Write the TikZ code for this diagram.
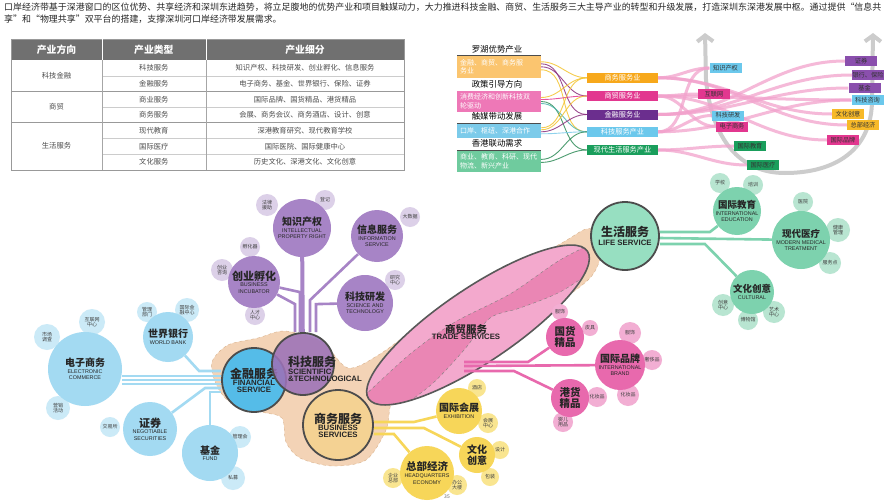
\documentclass[tikz,border=0pt]{standalone}
\usepackage{fontspec}
\setmainfont{Noto Sans CJK SC}
\newfontfamily\en{Liberation Sans}
\usetikzlibrary{arrows.meta,shapes.geometric}

\definecolor{tabhead}{HTML}{707070}
\definecolor{lorange}{HTML}{FBC56F}
\definecolor{lpink}{HTML}{EE78B7}
\definecolor{lblue}{HTML}{7CCBEA}
\definecolor{lgreen}{HTML}{6FCB9E}
\definecolor{rorange}{HTML}{F7A81B}
\definecolor{rmag}{HTML}{E2378F}
\definecolor{rpurple}{HTML}{6B2E8E}
\definecolor{rblue}{HTML}{6BC8EC}
\definecolor{rgreen}{HTML}{1A9E5C}
\definecolor{tagpur}{HTML}{8A4FAD}
\definecolor{tagyel}{HTML}{F7B928}
\definecolor{flyel}{HTML}{F4C430}
\definecolor{flpur}{HTML}{8B2F7E}
\definecolor{flteal}{HTML}{4DB6AC}
\definecolor{flgrn}{HTML}{2E8B57}
\definecolor{pinkln}{HTML}{F2A2CC}
\definecolor{kjmain}{HTML}{9C72B8}
\definecolor{kjmid}{HTML}{A784C6}
\definecolor{kjlt}{HTML}{DCD0E8}
\definecolor{jrmain}{HTML}{55BCE8}
\definecolor{jrmid}{HTML}{A3DAF2}
\definecolor{jrlt}{HTML}{CBEAF7}
\definecolor{swmain}{HTML}{F4D293}
\definecolor{swmid}{HTML}{F7D659}
\definecolor{swlt}{HTML}{F9E590}
\definecolor{mmell}{HTML}{F3A9CD}
\definecolor{mmband}{HTML}{EA86B4}
\definecolor{mmmid}{HTML}{E869AD}
\definecolor{mmlt}{HTML}{F2AED3}
\definecolor{shmain}{HTML}{97DFC1}
\definecolor{shmid}{HTML}{7DD2AE}
\definecolor{shlt}{HTML}{B8E5D1}
\definecolor{blobc}{HTML}{F3D3B6}

\pgfdeclarelayer{back}
\pgfdeclarelayer{mid}
\pgfsetlayers{back,mid,main}

\tikzset{
  headtxt/.style={text=white,font=\bfseries\fontsize{9.8}{10}\selectfont},
  cell/.style={text=black!70,font=\fontsize{7.3}{7.5}\selectfont},
  ftitle/.style={font=\fontsize{8.4}{9}\selectfont},
  lbox/.style={inner sep=3pt,text width=78pt,align=left,text=white,font=\fontsize{7}{8.4}\selectfont},
  rbox/.style={inner sep=0pt,minimum width=71pt,minimum height=10pt,text=white,font=\fontsize{7.2}{8}\selectfont},
  tagbox/.style={inner sep=0pt,minimum width=32pt,minimum height=10pt,text=black!80,font=\fontsize{6.2}{7}\selectfont},
  flow/.style={line width=0.9pt,opacity=0.85},
  pinkline/.style={line width=3pt,pinkln,opacity=0.75},
  bub/.style={circle,inner sep=0pt,align=center,text=black!85,font=\fontsize{6}{6.6}\selectfont},
  big/.style={bub,draw=black!70,line width=1.8pt},
  sat/.style={circle,inner sep=0pt,align=center,text=black!75,font=\fontsize{5}{5.6}\selectfont},
  stem/.style={line width=2.6pt},
}

\newcommand\zhb[2]{{\bfseries\fontsize{#1}{#1}\selectfont #2}}
\newcommand\ensm[1]{{\en\fontsize{5.4}{6}\selectfont #1}}
\newcommand\enbg[1]{{\en\bfseries\fontsize{7.8}{8.6}\selectfont #1}}

\begin{document}
\begin{tikzpicture}[x=1pt,y=-1pt]
\useasboundingbox (0,0) rectangle (890,503);
\begin{pgfonlayer}{back}
\fill[white] (0,0) rectangle (890,503);
\end{pgfonlayer}

% intro
\node (intro) at (4,2.5) [anchor=north west,align=left,inner sep=0pt,text=black!85,font=\fontsize{8.95}{12}\selectfont] {口岸经济带基于深港窗口的区位优势、共享经济和深圳东进趋势，将立足腹地的优势产业和项目触媒动力，大力推进科技金融、商贸、生活服务三大主导产业的转型和升级发展，打造深圳东深港发展中枢。通过提供“信息共\\享”和“物理共享”双平台的搭建，支撑深圳河口岸经济带发展需求。};

% table
\fill[tabhead] (11,39) rectangle (404,60);
\draw[black!40] (11,39) rectangle (404,170);
\foreach \y in {91,122.3} \draw[black!40] (11,\y) -- (404,\y);
\foreach \y in {75.7,106.7,138,153.7} \draw[black!20] (102,\y) -- (404,\y);
\foreach \x in {102,205.7} {
  \draw[black!35] (\x,60) -- (\x,170);
  \draw[white] (\x,39) -- (\x,60);
}
\node (hd1) at (56.5,49.5) [headtxt] {产业方向};
\node (hd2) at (153.8,49.5) [headtxt] {产业类型};
\node (hd3) at (305,49.5) [headtxt] {产业细分};
\node (fx1) at (56.5,75.7) [cell] {科技金融};
\node (fx2) at (56.5,106.7) [cell] {商贸};
\node (fx3) at (56.5,146.2) [cell] {生活服务};
\foreach \t/\d [count=\i] in {科技服务/知识产权、科技研发、创业孵化、信息服务,
  金融服务/电子商务、基金、世界银行、保险、证券,
  商业服务/国际品牌、国货精品、港货精品,
  商务服务/会展、商务会议、商务酒店、设计、创意,
  现代教育/深港教育研究、现代教育学校,
  国际医疗/国际医院、国际健康中心,
  文化服务/历史文化、深港文化、文化创意}
{
  \node (tp\i) at (153.8,{52.15+15.7*\i}) [cell] {\t};
  \node (ts\i) at (305,{52.15+15.7*\i}) [cell] {\d};
}

% flow diagram
\foreach \nm/\t/\y in {tt1/罗湖优势产业/49,tt2/政策引导方向/84.5,tt3/触媒带动发展/116.5,tt4/香港联动需求/143.5}
{
  \node (\nm) at (497,\y) [ftitle] {\t};
  \draw[black!70,line width=.8pt] (457,\y+6.5) -- (541,\y+6.5);
}
\node (lb1) at (499,66.8) [lbox,fill=lorange,minimum height=21.5pt] {金融、商贸、商务服\\务业};
\node (lb2) at (499,101.5) [lbox,fill=lpink,minimum height=21pt] {消费经济和创新科技双\\轮驱动};
\node (lb3) at (499,130.8) [lbox,fill=lblue,minimum height=13.5pt] {口岸、枢纽、深港合作};
\node (lb4) at (499,161.4) [lbox,fill=lgreen,minimum height=20.7pt] {商业、教育、科研、现代\\物流、新兴产业};
\foreach \nm/\t/\y/\c in {rb1/商务服务业/77.8/rorange,rb2/商贸服务业/96/rmag,rb3/金融服务业/114.5/rpurple,rb4/科技服务产业/131.8/rblue,rb5/现代生活服务产业/150/rgreen}
  \node (\nm) at (622.5,\y) [rbox,fill=\c] {\t};
\begin{pgfonlayer}{mid}
\foreach \a/\s/\b/\c in {lb1/5/rb1/flyel,lb1/3/rb3/flpur,lb1/0/rb2/flpur,lb1/-3/rb4/flyel,
  lb2/4/rb1/flyel,lb2/2/rb2/rmag,lb2/0/rb5/flgrn,lb2/-2/rb4/flteal,
  lb3/3/rb1/flyel,lb3/1/rb2/flyel,lb3/-1/rb3/flpur,lb3/-3/rb4/lblue,
  lb4/2/rb4/flgrn,lb4/-1/rb5/flgrn}
  \draw[flow,\c] ([yshift=\s pt]\a.east) to[out=0,in=180] (\b.west);
\end{pgfonlayer}

% right side tags
\begin{pgfonlayer}{back}
\draw[black!20,line width=4pt,{Straight Barb[length=6pt,width=16pt]}-{Straight Barb[length=6pt,width=16pt]}]
  (705,33) -- (706,80) .. controls (712,140) and (740,173) .. (785,173) .. controls (835,173) and (872,150) .. (872,100) -- (873,33);
\end{pgfonlayer}
\foreach \nm/\t/\x/\y/\c in {gzscq/知识产权/725.5/68/rblue,ghlw/互联网/714/94/rmag,gkjyf/科技研发/728/115.5/rblue,gdzsw/电子商务/732/126.5/rmag,
  ggjjy/国际教育/750/146/rgreen,ggjyl/国际医疗/763/165/rgreen,gzq/证券/861/61/tagpur,gyhbx/银行、保险/868/75/tagpur,
  gjj/基金/864.5/88/tagpur,gkjzx/科技咨询/867.5/100/rblue,gwhcy/文化创意/848/114/tagyel,gzbjj/总部经济/863/125/tagyel,ggjpp/国际品牌/843/140/rmag}
  \node (\nm) at (\x,\y) [tagbox,fill=\c] {\t};
\begin{pgfonlayer}{mid}
\foreach \a/\b in {rb4/gzscq,rb2/ghlw,rb4/gkjyf,rb2/gdzsw,rb5/ggjjy,rb5/ggjyl,rb3/gzq,rb3/gyhbx,
  rb3/gjj,rb4/gkjzx,rb1/gwhcy,rb1/gzbjj,rb2/ggjpp,rb1/gzscq,rb2/gkjzx}
  \draw[pinkline] (\a.east) to[out=0,in=180] (\b.west);
\end{pgfonlayer}

% mind map: core
\begin{pgfonlayer}{back}
\filldraw[fill=blobc,draw=brown!60,dashed,thin] plot[smooth cycle] coordinates {(212,362) (228,345) (258,338) (285,331) (322,342) (348,368) (380,354) (430,318) (500,276) (560,244) (586,229) (598,234) (600,258) (590,278) (560,302) (500,348) (430,388) (394,398) (386,430) (366,460) (332,466) (300,458) (286,442) (282,418) (262,412) (230,402) (216,384)};
\node (mmfw) at (478,325) [ellipse,minimum width=264pt,minimum height=74pt,rotate=34,fill=mmell] {};
\begin{scope}
\clip[rotate around={34:(478,325)}] (478,325) ellipse [x radius=132,y radius=37];
\filldraw[fill=mmband,draw=black!50,dashed,thin] plot[smooth] coordinates {(360,400) (410,354) (455,322) (510,294) (560,260) (600,240)}
  -- plot[smooth] coordinates {(600,266) (560,292) (520,308) (490,318) (464,350) (432,384) (392,414)} -- cycle;
\end{scope}
\draw[black!65,line width=1.6pt,rotate around={34:(478,325)}] (478,325) ellipse [x radius=132,y radius=37];
\end{pgfonlayer}
\node (mmtxt) at (466,332) [bub] {\zhb{10.5}{商贸服务}\\\enbg{TRADE SERVICES}};
\coordinate (mmroot) at (464,362);

\node (jrfw) at (254,380) [big,fill=jrmain,minimum size=64pt] {\zhb{12}{金融服务}\\\enbg{FINANCIAL}\\\enbg{SERVICE}};
\node (kjfw) at (303,364) [big,fill=kjmain,fill opacity=0.88,minimum size=62pt] {};
\node (kjtxt) at (286,369) [bub,anchor=west,align=left] {\zhb{12}{科技服务}\\\enbg{SCIENTIFIC}\\\enbg{\&TECHNOLOGICAL}};
\node (swfw) at (338,425) [big,fill=swmain,minimum size=70pt] {\zhb{12}{商务服务}\\\enbg{BUSINESS}\\\enbg{SERVICES}};
\node (shfw) at (625,236) [big,fill=shmain,minimum size=68pt] {\zhb{12}{生活服务}\\[2pt]\enbg{LIFE SERVICE}};

% satellites
\node (zscq) at (302,228) [bub,fill=kjmid,minimum size=58pt] {\zhb{10}{知识产权}\\\ensm{INTELLECTUAL}\\\ensm{PROPERTY RIGHT}};
\node (xxfw) at (377,236) [bub,fill=kjmid,minimum size=52pt] {\zhb{10}{信息服务}\\\ensm{INFORMATION}\\\ensm{SERVICE}};
\node (cyfh) at (254,282) [bub,fill=kjmid,minimum size=52pt] {\zhb{11}{创业孵化}\\\ensm{BUSINESS}\\\ensm{INCUBATOR}};
\node (kjyf) at (365,303) [bub,fill=kjmid,minimum size=56pt] {\zhb{10}{科技研发}\\\ensm{SCIENCE AND}\\\ensm{TECHNOLOGY}};
\node (dzsw) at (85,369) [bub,fill=jrmid,minimum size=74pt] {\zhb{10}{电子商务}\\\ensm{ELECTRONIC}\\\ensm{COMMERCE}};
\node (sjyh) at (168,337) [bub,fill=jrmid,minimum size=50pt] {\zhb{10}{世界银行}\\\ensm{WORLD BANK}};
\node (zqb) at (150,429) [bub,fill=jrmid,minimum size=54pt] {\zhb{11}{证券}\\\ensm{NEGOTIABLE}\\\ensm{SECURITIES}};
\node (jjb) at (210,453) [bub,fill=jrmid,minimum size=56pt] {\zhb{10}{基金}\\\ensm{FUND}};
\node (gjhz) at (459,411) [bub,fill=swmid,minimum size=46pt] {\zhb{10}{国际会展}\\\ensm{EXHIBITION}};
\node (whcyb) at (477,455) [bub,fill=swmid,minimum size=36pt] {\zhb{10}{文化}\\\zhb{10}{创意}};
\node (zbjjb) at (427,473) [bub,fill=swmid,minimum size=54pt] {\zhb{10.5}{总部经济}\\\ensm{HEADQUARTERS}\\\ensm{ECONOMY}};
\node (ghjp) at (565,337) [bub,fill=mmmid,minimum size=38pt] {\zhb{10.5}{国货}\\\zhb{10.5}{精品}};
\node (gjppb) at (620,365) [bub,fill=mmmid,minimum size=50pt] {\zhb{10}{国际品牌}\\\ensm{INTERNATIONAL}\\\ensm{BRAND}};
\node (gangh) at (570,398) [bub,fill=mmmid,minimum size=38pt] {\zhb{10.5}{港货}\\\zhb{10.5}{精品}};
\node (gjjyb) at (737,211) [bub,fill=shmid,minimum size=48pt] {\zhb{9.5}{国际教育}\\\ensm{INTERNATIONAL}\\\ensm{EDUCATION}};
\node (xdyl) at (801,240) [bub,fill=shmid,minimum size=58pt] {\zhb{9.5}{现代医疗}\\\ensm{MODERN MEDICAL}\\\ensm{TREATMENT}};
\node (whcyg) at (752,292) [bub,fill=shmid,minimum size=44pt] {\zhb{9.5}{文化创意}\\\ensm{CULTURAL}};

\begin{pgfonlayer}{mid}
\foreach \nm/\x/\y/\d/\t in {flyz/267/205/22/{法律\\援助},dj/325/200/20/登记,dsj/410/217/20/大数据,fhq/250/247/20/孵化器,
  cyzx/222/270/22/{创业\\咨询},rczx/255/315/20/{人才\\中心},yjzx/395/280/20/{研究\\中心}}
  \node (\nm) at (\x,\y) [sat,fill=kjlt,minimum size=\d pt] {\t};
\foreach \nm/\x/\y/\d/\t in {sctc/47/337/26/{市场\\调查},hlwzx/92/322/26/{互联网\\中心},yxhd/58/408/24/{营销\\活动},glbm/147/312/20/{管理\\部门},
  gjjrzx/187/310/24/{国际金\\融中心},jys/110/427/20/交易所,glh/240/437/22/管理会,smu/233/478/24/私募}
  \node (\nm) at (\x,\y) [sat,fill=jrlt,minimum size=\d pt] {\t};
\foreach \nm/\x/\y/\d/\t in {jd/477/388/18/酒店,hzzx/488/423/20/{会展\\中心},sj/500/450/18/设计,bz/490/477/18/包装,
  qyzb/393/478/20/{企业\\总部},bgdl/457/485/20/{办公\\大楼}}
  \node (\nm) at (\x,\y) [sat,fill=swlt,minimum size=\d pt] {\t};
\foreach \nm/\x/\y/\d/\t in {fsa/560/312/16/服饰,pj/590/328/16/皮具,fsb/630/333/22/服饰,scp/652/360/20/奢侈品,
  hzpa/628/395/22/化妆品,hzpb/597/397/20/化妆品,yeyp/563/422/20/{婴儿\\用品}}
  \node (\nm) at (\x,\y) [sat,fill=mmlt,minimum size=\d pt] {\t};
\foreach \nm/\x/\y/\d/\t in {xx/720/183/20/学校,px/753/185/20/培训,yy/803/202/20/医院,jkgl/838/230/24/{健康\\管理},
  fwd/830/263/22/服务点,cyzxg/723/305/22/{创意\\中心},bwg/748/320/20/博物馆,yszx/774/312/22/{艺术\\中心}}
  \node (\nm) at (\x,\y) [sat,fill=shlt,minimum size=\d pt] {\t};

% stems
\draw[stem,kjmid,line width=4pt] (kjfw) -- (zscq);
\draw[stem,kjmid] ([xshift=-8pt]kjfw.north) -- ++(0,-28) -- (cyfh);
\draw[stem,kjmid] ([xshift=-3pt]kjfw.north) -- ++(0,-40) -- (cyfh);
\draw[stem,kjmid] ([xshift=7pt]kjfw.north) -- ++(0,-32) -- (xxfw);
\draw[stem,kjmid] ([xshift=13pt]kjfw.north) -- ++(0,-28) -- (kjyf);
\foreach \s in {-4,0,4}
  \draw[stem,jrmid] ([yshift=\s pt]jrfw.west) -- ([yshift=\s pt]jrfw.west -| dzsw.east);
\draw[stem,jrmid] ([yshift=9pt]jrfw.west) -- ++(-22,0) -- (sjyh);
\draw[stem,jrmid] ([yshift=-8pt]jrfw.west) -- ++(-16,0) -- (zqb);
\draw[stem,jrmid] ([yshift=-12pt]jrfw.west) -| (jjb);
\draw[stem,swmid] ([yshift=3pt]swfw.east) -- ++(40,0) -- (gjhz);
\draw[stem,swmid] ([yshift=-3pt]swfw.east) -- ++(50,0) -- (whcyb);
\draw[stem,swmid] ([yshift=-9pt]swfw.east) -- ++(20,0) -- (zbjjb);
\draw[stem,mmmid] (mmroot) -- ++(64,0) -- (ghjp);
\draw[stem,mmmid] ([yshift=-4pt]mmroot) -- (gjppb);
\draw[stem,mmmid] ([yshift=-9pt]mmroot) -- ++(50,0) -- (gangh);
\draw[stem,shmid] ([yshift=-2pt]shfw.east) -- (xdyl);
\draw[stem,shmid] ([yshift=4pt]shfw.east) -- ++(50,0) -- (gjjyb);
\draw[stem,shmid] ([yshift=-8pt]shfw.east) -- ++(45,0) -- (whcyg);
\end{pgfonlayer}

\node (pgno) at (447,497) [text=black!60,font=\fontsize{5}{5}\selectfont] {35};
\end{tikzpicture}
\end{document}
